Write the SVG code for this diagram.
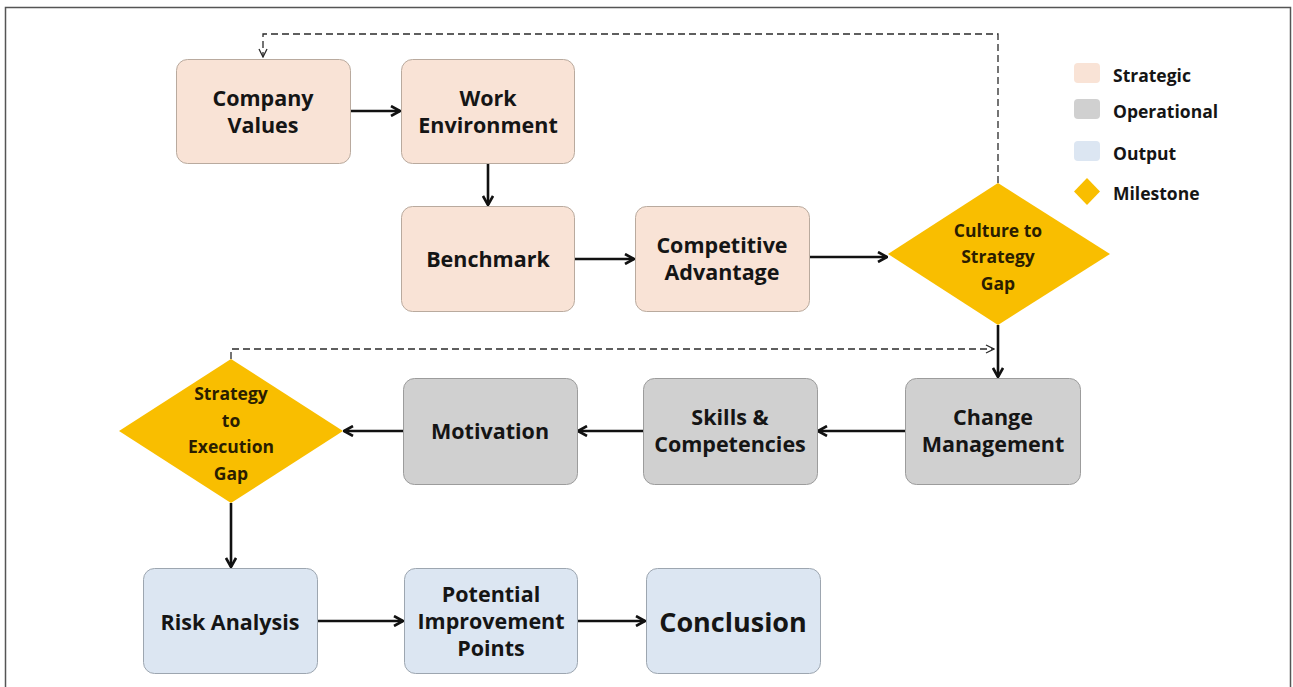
<svg xmlns="http://www.w3.org/2000/svg" width="1293" height="687" viewBox="0 0 1293 687">
<style>
.t{font-family:"Open Sans","Liberation Sans",sans-serif;font-weight:700;fill:#151515;text-anchor:middle;font-size:21.5px}
.d{font-family:"Open Sans","Liberation Sans",sans-serif;font-weight:700;fill:#2a1d00;text-anchor:middle;font-size:17.5px}
.l{font-family:"Open Sans","Liberation Sans",sans-serif;font-weight:700;fill:#151515;font-size:17.5px}
.s{fill:#F9E3D6;stroke:#B9AA9E;stroke-width:1}
.o{fill:#D0D0D0;stroke:#9C9C9C;stroke-width:1}
.u{fill:#DCE6F2;stroke:#9DA6B0;stroke-width:1}
.m{fill:#F9BE00}
.c{fill:none;stroke:#111;stroke-width:2.6}
.dash{fill:none;stroke:#2a2a2a;stroke-width:1.3;stroke-dasharray:7 4}
</style>
<defs>
<marker id="arr" viewBox="0 0 12 12" refX="11" refY="6" markerWidth="12" markerHeight="12" markerUnits="userSpaceOnUse" orient="auto">
<path d="M2,1 L11,6 L2,11" fill="none" stroke="#111" stroke-width="2.6"/>
</marker>
<marker id="arrd" viewBox="0 0 10 10" refX="9" refY="5" markerWidth="10" markerHeight="10" markerUnits="userSpaceOnUse" orient="auto">
<path d="M1,1 L9,5 L1,9" fill="none" stroke="#2a2a2a" stroke-width="1.3"/>
</marker>
</defs>
<rect x="0" y="0" width="1293" height="687" fill="#fff"/>
<rect x="5.5" y="7.5" width="1285" height="700" fill="none" stroke="#555" stroke-width="1.5"/>

<g id="connectors">
<path class="dash" d="M998,183 V34 H263 V57" marker-end="url(#arrd)"/>
<path class="dash" d="M231,359 V349 H994" marker-end="url(#arrd)"/>
<path class="c" d="M350,111 H400" marker-end="url(#arr)"/>
<path class="c" d="M488,163 V205" marker-end="url(#arr)"/>
<path class="c" d="M574,259 H634" marker-end="url(#arr)"/>
<path class="c" d="M809,257 H887" marker-end="url(#arr)"/>
<path class="c" d="M998,325 V377" marker-end="url(#arr)"/>
<path class="c" d="M905,431 H818" marker-end="url(#arr)"/>
<path class="c" d="M643,431 H578" marker-end="url(#arr)"/>
<path class="c" d="M404,431 H344" marker-end="url(#arr)"/>
<path class="c" d="M231,503 V567" marker-end="url(#arr)"/>
<path class="c" d="M317,621 H403" marker-end="url(#arr)"/>
<path class="c" d="M577,621 H645" marker-end="url(#arr)"/>
</g>

<g id="company-values">
<rect class="s" x="176.5" y="59.5" width="174" height="104" rx="11"/>
<text class="t" x="263" y="106">Company</text>
<text class="t" x="263" y="133">Values</text>
</g>
<g id="work-environment">
<rect class="s" x="401.5" y="59.5" width="173" height="104" rx="11"/>
<text class="t" x="488" y="106">Work</text>
<text class="t" x="488" y="133">Environment</text>
</g>
<g id="benchmark">
<rect class="s" x="401.5" y="206.5" width="173" height="105" rx="11"/>
<text class="t" x="488" y="267">Benchmark</text>
</g>
<g id="competitive-advantage">
<rect class="s" x="635.5" y="206.5" width="174" height="105" rx="11"/>
<text class="t" x="722" y="253">Competitive</text>
<text class="t" x="722" y="280">Advantage</text>
</g>
<g id="culture-gap">
<polygon class="m" points="998,183 1110,254 998,325 888,254"/>
<text class="d" x="998" y="237">Culture to</text>
<text class="d" x="998" y="263">Strategy</text>
<text class="d" x="998" y="290">Gap</text>
</g>
<g id="change-management">
<rect class="o" x="905.5" y="378.5" width="175" height="106" rx="11"/>
<text class="t" x="993" y="425">Change</text>
<text class="t" x="993" y="452">Management</text>
</g>
<g id="skills">
<rect class="o" x="643.5" y="378.5" width="174" height="106" rx="11"/>
<text class="t" x="730" y="425">Skills &amp;</text>
<text class="t" x="730" y="452">Competencies</text>
</g>
<g id="motivation">
<rect class="o" x="403.5" y="378.5" width="174" height="106" rx="11"/>
<text class="t" x="490" y="439">Motivation</text>
</g>
<g id="execution-gap">
<polygon class="m" points="231,359 343,431 231,503 119,431"/>
<text class="d" x="231" y="400">Strategy</text>
<text class="d" x="231" y="427">to</text>
<text class="d" x="231" y="453">Execution</text>
<text class="d" x="231" y="480">Gap</text>
</g>
<g id="risk-analysis">
<rect class="u" x="143.5" y="568.5" width="174" height="105" rx="11"/>
<text class="t" x="230" y="630">Risk Analysis</text>
</g>
<g id="potential-improvement">
<rect class="u" x="404.5" y="568.5" width="173" height="105" rx="11"/>
<text class="t" x="491" y="602">Potential</text>
<text class="t" x="491" y="629">Improvement</text>
<text class="t" x="491" y="656">Points</text>
</g>
<g id="conclusion">
<rect class="u" x="646.5" y="568.5" width="174" height="105" rx="11"/>
<text class="t" x="733" y="632" style="font-size:27px">Conclusion</text>
</g>

<g id="legend">
<rect x="1074" y="63" width="26" height="20" rx="4" fill="#F9E3D6"/>
<text class="l" x="1113" y="82">Strategic</text>
<rect x="1074" y="99" width="26" height="20" rx="4" fill="#D0D0D0"/>
<text class="l" x="1113" y="118">Operational</text>
<rect x="1074" y="141" width="26" height="20" rx="4" fill="#DCE6F2"/>
<text class="l" x="1113" y="160">Output</text>
<polygon points="1087,178 1100,191.5 1087,205 1074,191.5" fill="#F9BE00"/>
<text class="l" x="1113" y="200">Milestone</text>
</g>
</svg>
